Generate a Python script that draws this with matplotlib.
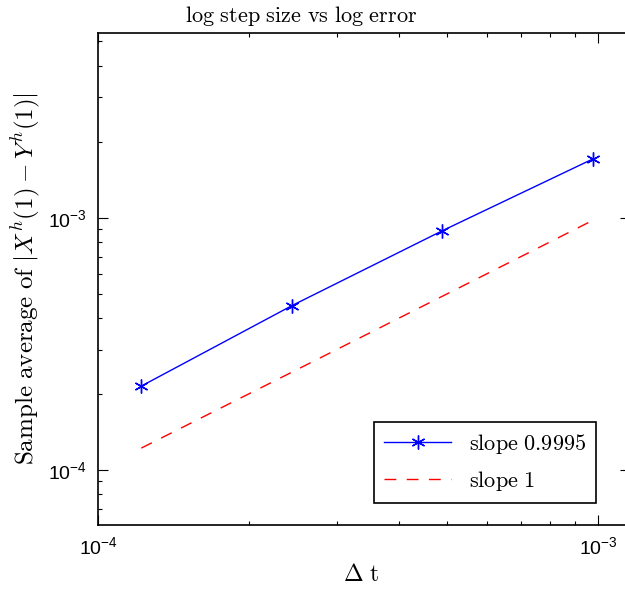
import matplotlib
matplotlib.use("Agg")
import matplotlib.pyplot as plt
from matplotlib.font_manager import FontProperties
from matplotlib.ticker import LogLocator

# step sizes and measured errors
dt = [1.2207e-4, 2.4414e-4, 4.8828e-4, 9.7656e-4]
err = [2.15e-4, 4.48e-4, 8.88e-4, 1.71e-3]
ref = dt  # slope 1 reference line

# tick labels in a Helvetica-like face, labels in computer modern
plt.rcParams["font.family"] = "Liberation Sans"
plt.rcParams["mathtext.fontset"] = "custom"
plt.rcParams["mathtext.rm"] = "Liberation Sans"
plt.rcParams["mathtext.it"] = "Liberation Sans:italic"
plt.rcParams["mathtext.bf"] = "Liberation Sans:bold"

fig = plt.figure(figsize=(6.25, 5.92), dpi=100)
# right edge of the axes sits just past the edge of the screenshot
wpx = 532
ax = fig.add_axes([98 / 625, 67 / 592, wpx / 625, 492 / 592])

ax.loglog(dt, err, color="blue", lw=1, marker=(6, 2, 0), ms=10, mew=1,
          label=r"$\mathrm{slope\ 0.9995}$")
ax.loglog(dt, ref, color="red", lw=1, dashes=(8.5, 7.5),
          label=r"$\mathrm{slope\ 1}$")

ax.set_xlim(1e-4, 1e-4 * 10 ** (wpx / 500))
ax.set_ylim(6.05e-5, 5.4e-3)

ax.tick_params(which="both", direction="in", top=True, right=True, width=0.8)
ax.tick_params(which="major", length=7, labelsize=14, pad=8)
ax.tick_params(which="minor", length=3)
ax.xaxis.set_major_locator(LogLocator(base=10, numticks=10))
ax.yaxis.set_major_locator(LogLocator(base=10, numticks=10))
for s in ax.spines.values():
    s.set_linewidth(1.2)

ax.set_title(r"$\mathrm{log\ step\ size\ vs\ log\ error}$", fontsize=16, pad=8,
             x=(301 - 98) / wpx, math_fontfamily="cm")
ax.set_xlabel(r"$\Delta\ \mathrm{t}$", fontsize=17, labelpad=4,
              x=(361 - 98) / wpx, math_fontfamily="cm")
ax.set_ylabel(r"$\mathrm{Sample\ average\ of\ }|X^h(1)-Y^h(1)|$", fontsize=18,
              labelpad=4, math_fontfamily="cm")

leg = ax.legend(loc="lower right", bbox_to_anchor=(596 / 625, 89 / 592),
                bbox_transform=fig.transFigure, borderaxespad=0, fancybox=False,
                prop=FontProperties(size=16, math_fontfamily="cm"),
                handlelength=3, edgecolor="black", framealpha=1,
                borderpad=0.45, labelspacing=0.6)
leg.get_frame().set_linewidth(1.2)

fig.savefig("out.png", dpi=100)
